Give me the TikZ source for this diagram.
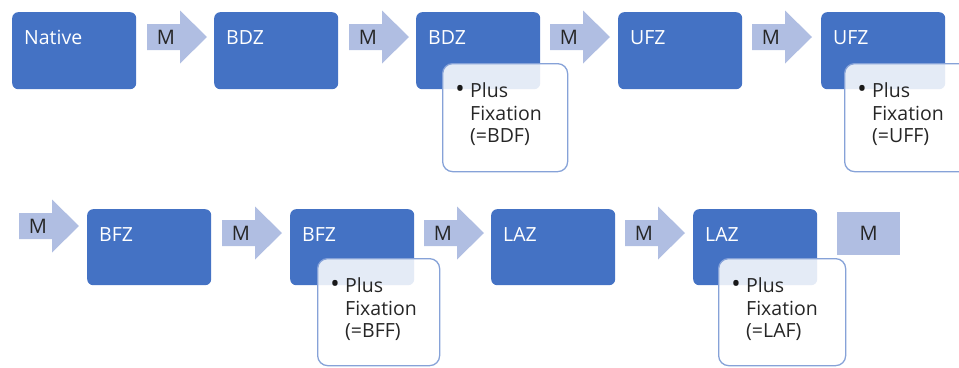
\documentclass[tikz,border=0pt]{standalone}
\usepackage{fontspec}
\setmainfont{Open Sans}
\definecolor{boxblue}{HTML}{4472C4}
\definecolor{arrowblue}{HTML}{B0BEE2}
\definecolor{subline}{HTML}{86A2D8}
\begin{document}
\begin{tikzpicture}[x=1pt,y=-1pt,
  mainbox/.style={rectangle, rounded corners=6pt, fill=boxblue, minimum width=124pt, minimum height=77pt, anchor=north west, inner sep=0pt},
  boxlabel/.style={anchor=base west, text=white, inner sep=0pt, font=\fontsize{19.5}{22}\selectfont},
  subbox/.style={rectangle, rounded corners=10pt, fill=white, fill opacity=0.86, draw=subline, draw opacity=1, line width=1.3pt, minimum width=125pt, minimum height=108pt, anchor=north west, inner sep=0pt},
  subtext/.style={anchor=base west, inner sep=0pt, text=black!85, text width=95pt, align=left, font=\fontsize{19.5}{22.5}\selectfont},
  bullet/.style={anchor=base, inner sep=0pt, text=black!90, font=\fontsize{25}{25}\selectfont},
  mlabel/.style={inner sep=0pt, text=black!85, font=\fontsize{20}{22}\selectfont},
  mrect/.style={rectangle, fill=arrowblue, minimum width=63pt, minimum height=43pt, inner sep=0pt, anchor=north west},
  marrow/.pic={\fill[arrowblue] (0,-13) -- (33,-13) -- (33,-26.5) -- (60,0) -- (33,26.5) -- (33,13) -- (0,13) -- cycle;
               \node[mlabel] (-m) at (19,0) {M};}
]
\path[use as bounding box] (0,0) rectangle (959,367);
\clip (0,0) rectangle (959,367);

% top row
\node[mainbox] (b1) at (12,12) {};
\node[mainbox] (b2) at (214,12) {};
\node[mainbox] (b3) at (416,12) {};
\node[mainbox] (b4) at (618,12) {};
\node[mainbox] (b5) at (821,12) {};
\foreach \n/\t in {b1/Native,b2/BDZ,b3/BDZ,b4/UFZ,b5/UFZ}
  \node[boxlabel] (\n-t) at ([xshift=12pt,yshift=-32.5pt]\n.north west) {\t};

\pic (a1) at (147,37) {marrow};
\pic (a2) at (349,37) {marrow};
\pic (a3) at (550,37) {marrow};
\pic (a4) at (752,37) {marrow};

% bottom row
\node[mainbox, minimum height=76pt] (c1) at (87,209) {};
\node[mainbox, minimum height=76pt] (c2) at (290,209) {};
\node[mainbox, minimum height=76pt] (c3) at (491,209) {};
\node[mainbox, minimum height=76pt] (c4) at (693,209) {};
\foreach \n/\t in {c1/BFZ,c2/BFZ,c3/LAZ,c4/LAZ}
  \node[boxlabel] (\n-t) at ([xshift=12pt,yshift=-32.5pt]\n.north west) {\t};

\pic (d0) at (19,226) {marrow};
\pic (d1) at (222,233) {marrow};
\pic (d2) at (424,233) {marrow};
\pic (d3) at (625,233) {marrow};
\node[mrect] (d4) at (837,212) {};
\node[mlabel] (d4-m) at (d4.center) {M};

% sub boxes
\node[subbox] (s1) at (442,63) {};
\node[subbox] (s2) at (844,63) {};
\node[subbox, minimum width=122pt, minimum height=107pt] (s3) at (317,258) {};
\node[subbox, minimum width=127pt, minimum height=107pt] (s4) at (718,258) {};
\foreach \n/\t in {s1/BDF,s2/UFF,s3/BFF,s4/LAF}{
  \node[bullet] (\n-b) at ([xshift=18pt,yshift=-34.5pt]\n.north west) {•};
  \node[subtext] (\n-t) at ([xshift=28pt,yshift=-34.5pt]\n.north west) {Plus\\Fixation\\(=\t)};
}
\end{tikzpicture}
\end{document}
